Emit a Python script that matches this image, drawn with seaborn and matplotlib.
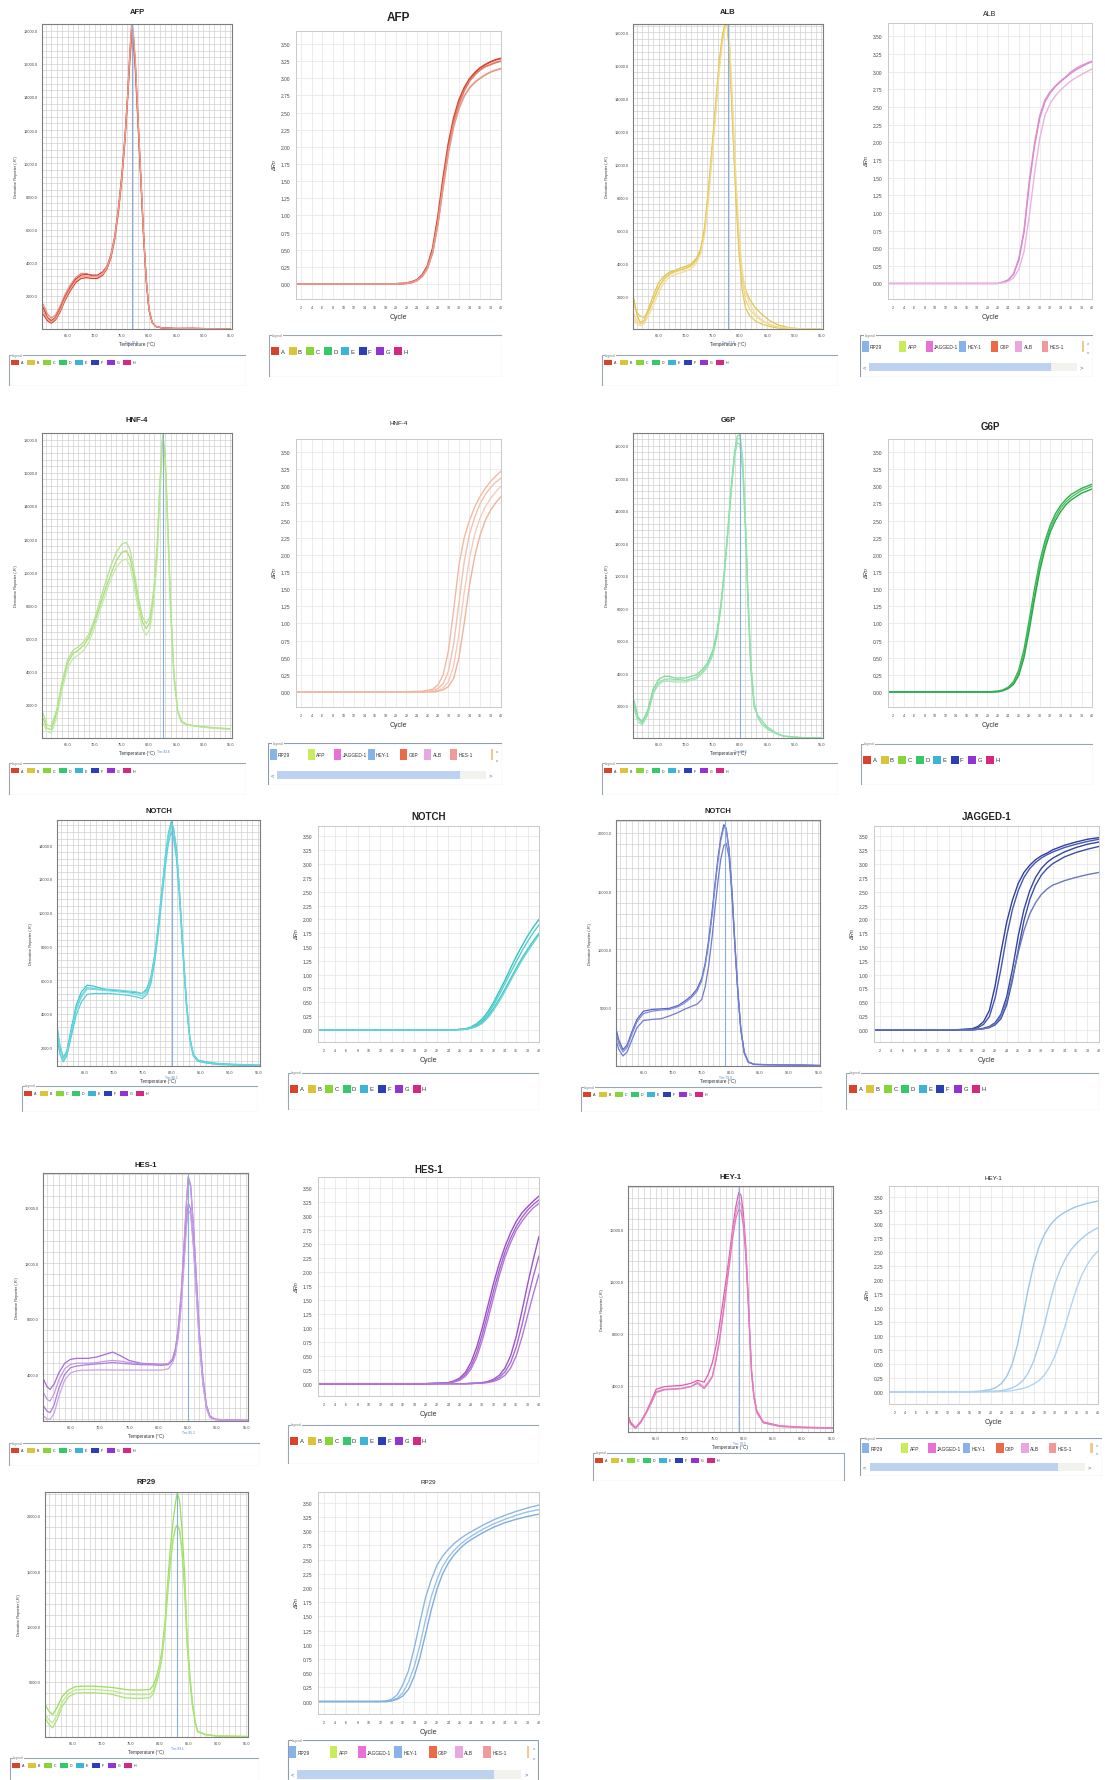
import numpy as np
import pandas as pd
import matplotlib
matplotlib.use("Agg")
import matplotlib.pyplot as plt
import matplotlib.patches as mpatches
import seaborn as sns

# ---------------- melt-curve data (temperature, derivative reporter) ----------------
afp_melt_T = [60.5, 61.3, 62.0, 62.8, 63.6, 64.5, 65.5, 66.5, 67.5, 68.5, 69.5, 70.5, 71.5, 72.3, 73.0, 73.7, 74.4, 75.0, 75.6, 76.1,
              76.5, 76.8, 77.1, 77.5, 78.0, 78.5, 79.0, 79.5, 80.0, 80.6, 81.3, 82.5, 85.0, 88.0, 91.0, 95.0]
afp_melt_A = [1300, 700, 500, 700, 1200, 1900, 2500, 3000, 3250, 3300, 3250, 3250, 3450, 3800, 4500, 5600, 7400, 9300, 11700, 14300,
              16800, 18200, 17900, 16000, 12600, 9200, 5800, 3000, 1200, 400, 150, 60, 30, 40, 20, 10]
afp_melt_B = [900, 500, 350, 550, 1000, 1700, 2300, 2800, 3050, 3100, 3050, 3050, 3250, 3650, 4300, 5400, 7100, 9000, 11400, 14000,
              16300, 17600, 17400, 15600, 12300, 9000, 5600, 2900, 1150, 380, 140, 60, 30, 30, 20, 10]
afp_melt_C = [1500, 900, 650, 850, 1350, 2050, 2650, 3100, 3350, 3350, 3200, 3150, 3300, 3700, 4400, 5500, 7200, 9100, 11500, 14100,
              16500, 17900, 17700, 15900, 12500, 9100, 5700, 2950, 1180, 390, 150, 60, 30, 40, 20, 10]
afp_melt_D = [1100, 600, 420, 620, 1100, 1800, 2400, 2900, 3150, 3200, 3150, 3150, 3350, 3750, 4450, 5550, 7300, 9200, 11600, 14200,
              16700, 18400, 18000, 16100, 12700, 9300, 5800, 3000, 1200, 400, 150, 60, 30, 30, 20, 10]

alb_melt_T = [60.5, 61.0, 61.6, 62.3, 63.0, 64.0, 65.0, 66.0, 67.0, 68.0, 69.0, 70.0, 71.0, 72.0, 72.8, 73.5, 74.2, 74.9, 75.6, 76.2,
              76.8, 77.3, 77.7, 78.1, 78.6, 79.2, 79.8, 80.4, 81.0, 81.8, 82.8, 84.0, 85.5, 87.0, 89.0, 91.0, 95.0]
alb_melt_A = [1800, 900, 400, 500, 1100, 2000, 2800, 3200, 3450, 3550, 3700, 3800, 3950, 4300, 4900, 6200, 8500, 11200, 14000, 16300,
              17900, 18600, 18400, 16800, 13000, 8600, 5200, 3300, 2400, 1800, 1300, 900, 500, 250, 80, 20, 0]
alb_melt_B = [900, 500, 300, 400, 900, 1700, 2500, 3000, 3300, 3450, 3550, 3650, 3800, 4150, 4700, 5900, 8100, 10800, 13500, 15900,
              17600, 18500, 18600, 17200, 13600, 9000, 5400, 3000, 1800, 1200, 800, 500, 250, 120, 40, 10, 0]
alb_melt_C = [1500, 1000, 800, 700, 1000, 1700, 2500, 3050, 3350, 3500, 3600, 3700, 3850, 4200, 4800, 6000, 8200, 10900, 13600, 16000,
              17700, 18500, 18300, 16600, 12800, 8300, 4700, 2400, 1300, 800, 500, 300, 150, 60, 20, 0, 0]
alb_melt_D = [600, 300, 200, 300, 700, 1400, 2200, 2800, 3150, 3300, 3400, 3500, 3650, 4000, 4600, 5700, 7800, 10500, 13300, 15700,
              17400, 18300, 18500, 17400, 14000, 9600, 6000, 3600, 2300, 1500, 950, 550, 280, 120, 40, 10, 0]

hnf4_melt_T = [60.5, 61.2, 62.0, 63.0, 64.0, 65.0, 66.0, 67.0, 68.0, 69.0, 70.0, 71.0, 72.0, 73.0, 74.0, 75.0, 75.8, 76.5, 77.2, 78.0,
               78.8, 79.5, 80.2, 80.9, 81.5, 82.0, 82.5, 83.0, 83.5, 84.0, 84.6, 85.3, 86.0, 87.0, 89.0, 92.0, 95.0]
hnf4_melt_A = [1200, 600, 500, 1500, 3200, 4500, 5100, 5300, 5600, 6100, 7000, 8000, 9000, 9900, 10700, 11200, 11300, 10900, 9800, 8200,
               7000, 6600, 7000, 8600, 11200, 15000, 18000, 16800, 12500, 7800, 3800, 1600, 1000, 800, 700, 600, 550]
hnf4_melt_B = [900, 400, 300, 1200, 2900, 4200, 4800, 5000, 5300, 5800, 6700, 7700, 8700, 9600, 10300, 10700, 10800, 10400, 9300, 7800,
               6600, 6200, 6600, 8200, 10800, 14500, 17400, 16300, 12100, 7500, 3600, 1500, 950, 780, 680, 580, 520]
hnf4_melt_C = [1500, 800, 700, 1700, 3400, 4700, 5300, 5500, 5800, 6300, 7200, 8300, 9400, 10400, 11200, 11700, 11800, 11400, 10200, 8600,
               7300, 6900, 7300, 9000, 11600, 15300, 18300, 17200, 12800, 8000, 3900, 1650, 1020, 820, 720, 620, 560]

g6p_melt_T = [60.5, 61.2, 62.0, 63.0, 64.0, 65.0, 66.0, 67.0, 68.0, 69.0, 70.0, 71.0, 72.0, 73.0, 74.0, 75.0, 75.8, 76.5, 77.2, 77.8,
              78.4, 79.0, 79.5, 80.0, 80.5, 81.0, 81.5, 82.0, 82.6, 83.3, 84.0, 85.0, 86.5, 88.0, 91.0, 95.0]
g6p_melt_A = [2300, 1300, 1000, 1700, 3000, 3600, 3800, 3800, 3700, 3700, 3700, 3800, 3900, 4200, 4600, 5400, 6600, 8300, 10600, 13000,
              15500, 17600, 18600, 18700, 17200, 13500, 8700, 4700, 2200, 1300, 900, 600, 300, 120, 30, 0]
g6p_melt_B = [1800, 1000, 800, 1400, 2700, 3300, 3500, 3500, 3450, 3450, 3450, 3550, 3650, 3950, 4350, 5100, 6300, 8000, 10300, 12700,
              15200, 17300, 18400, 18500, 17000, 13300, 8500, 4500, 2100, 1250, 850, 550, 280, 100, 30, 0]
g6p_melt_C = [2000, 1200, 900, 1500, 2800, 3400, 3600, 3650, 3600, 3600, 3550, 3650, 3750, 4050, 4450, 5200, 6400, 8100, 10400, 12800,
              15300, 17400, 18200, 18100, 16500, 12800, 8000, 4200, 1900, 1400, 1100, 700, 350, 120, 30, 0]

notch_melt_T = [60.3, 60.8, 61.4, 62.0, 62.8, 63.6, 64.5, 65.5, 66.5, 68.0, 69.5, 71.0, 72.5, 74.0, 75.0, 75.8, 76.5, 77.2, 77.8, 78.4,
                79.0, 79.5, 80.0, 80.4, 80.9, 81.4, 82.0, 82.6, 83.2, 83.8, 84.6, 86.0, 88.0, 91.0, 95.3]
notch_melt_A = [3300, 2100, 1400, 1800, 3200, 4500, 5300, 5700, 5650, 5500, 5400, 5350, 5300, 5250, 5200, 5500, 6200, 7600, 9400, 11400,
                13400, 14700, 15400, 15000, 13800, 11400, 8000, 4800, 2600, 1600, 1250, 1150, 1050, 1000, 950]
notch_melt_B = [3000, 1900, 1300, 1600, 2900, 4200, 5000, 5450, 5450, 5400, 5350, 5300, 5250, 5150, 5050, 5300, 6000, 7400, 9200, 11200,
                13100, 14400, 15100, 14700, 13500, 11200, 7800, 4700, 2550, 1550, 1200, 1100, 1000, 970, 930]
notch_melt_C = [2600, 1600, 1150, 1500, 2700, 3900, 4700, 5150, 5200, 5200, 5200, 5150, 5100, 5000, 4900, 5150, 5800, 7200, 8900, 10900,
                12800, 14100, 14800, 14400, 13200, 10900, 7600, 4500, 2450, 1500, 1180, 1080, 990, 960, 920]
notch_melt_D = [3100, 2000, 1350, 1700, 3000, 4300, 5100, 5550, 5500, 5450, 5450, 5400, 5350, 5300, 5200, 5400, 6100, 7500, 9300, 11300,
                13300, 14600, 15300, 14900, 13700, 11300, 7900, 4750, 2580, 1570, 1220, 1120, 1020, 980, 940]

notchb_melt_T = [60.2, 60.8, 61.5, 62.2, 63.0, 63.9, 65.0, 66.5, 68.0, 69.5, 71.0, 72.2, 73.2, 74.2, 75.0, 75.6, 76.2, 76.8, 77.3, 77.8,
                 78.3, 78.8, 79.2, 79.7, 80.2, 80.7, 81.2, 81.7, 82.3, 83.0, 84.0, 86.0, 89.0, 92.0, 95.3]
notchb_melt_A = [3400, 2200, 1400, 1800, 2900, 4000, 4700, 4850, 4900, 4950, 5200, 5600, 6000, 6600, 7500, 8800, 10800, 13300, 15700, 17900,
                 19600, 20700, 20400, 18600, 15000, 10500, 6500, 3300, 1200, 350, 150, 120, 100, 90, 50]
notchb_melt_B = [3000, 1900, 1200, 1600, 2700, 3800, 4500, 4700, 4800, 4850, 5100, 5450, 5850, 6400, 7300, 8600, 10500, 13000, 15400, 17600,
                 19400, 20500, 20300, 18500, 14900, 10400, 6400, 3200, 1150, 330, 140, 110, 90, 80, 40]
notchb_melt_C = [2400, 1400, 860, 1200, 2200, 3300, 3900, 4000, 4050, 4300, 4600, 4900, 5100, 5300, 5700, 6800, 8600, 11100, 13600, 15900,
                 17800, 18900, 19100, 17900, 14600, 10300, 6300, 3150, 1100, 320, 130, 100, 80, 70, 30]

hes1_melt_T = [60.4, 61.0, 61.5, 62.2, 63.0, 64.0, 65.0, 66.0, 67.0, 68.0, 69.5, 71.0, 72.2, 73.5, 75.0, 77.0, 79.0, 80.5, 81.7, 82.4,
               82.9, 83.4, 83.9, 84.4, 84.8, 85.1, 85.5, 86.0, 86.5, 87.0, 87.6, 88.2, 88.8, 89.7, 92.0, 95.5]
hes1_melt_A = [3640, 3100, 2920, 3300, 4100, 4800, 5080, 5150, 5150, 5150, 5250, 5450, 5600, 5350, 5000, 4800, 4750, 4720, 4750, 5100,
               5800, 7300, 9800, 13400, 16400, 18200, 17600, 14600, 10800, 7000, 3800, 1800, 1000, 780, 720, 700]
hes1_melt_B = [2680, 2200, 2080, 2600, 3600, 4400, 4720, 4800, 4800, 4800, 4850, 4950, 5000, 4950, 4850, 4750, 4720, 4700, 4750, 5100,
               5800, 7300, 9800, 13400, 16400, 18100, 17500, 14500, 10700, 6900, 3700, 1750, 980, 770, 710, 690]
hes1_melt_C = [1725, 1350, 1245, 1800, 3000, 4000, 4480, 4600, 4650, 4700, 4750, 4800, 4850, 4800, 4750, 4700, 4680, 4650, 4700, 5000,
               5600, 6900, 9200, 12400, 15000, 16300, 15900, 13300, 9800, 6300, 3400, 1600, 920, 750, 700, 680]
hes1_melt_D = [1000, 800, 770, 1200, 2400, 3600, 4100, 4250, 4300, 4300, 4320, 4320, 4310, 4310, 4310, 4310, 4310, 4310, 4400, 4800,
               5400, 6700, 8900, 12000, 14600, 15800, 15500, 13000, 9600, 6200, 3300, 1550, 900, 740, 700, 680]

hey1_melt_T = [60.2, 60.8, 61.6, 62.5, 63.4, 64.3, 65.1, 66.5, 68.0, 69.5, 71.0, 72.2, 73.3, 74.0, 74.7, 75.3, 75.9, 76.5, 77.0, 77.6,
               78.2, 78.7, 79.2, 79.6, 80.0, 80.4, 80.8, 81.1, 81.4, 81.8, 82.3, 83.4, 86.3, 90.0, 95.3]
hey1_melt_A = [1830, 1200, 815, 1300, 2000, 2900, 3745, 3950, 4000, 4050, 4200, 4430, 4300, 4900, 5780, 7000, 8590, 10400, 12000, 14000,
               16200, 17700, 18800, 18600, 17200, 14800, 11100, 8000, 5200, 3300, 2100, 1250, 950, 850, 800]
hey1_melt_B = [1600, 1050, 750, 1200, 1900, 2700, 3490, 3700, 3745, 3800, 3950, 4300, 3900, 4300, 4760, 6000, 7570, 9500, 11300, 13500,
               15800, 17200, 18100, 17900, 16600, 14300, 10800, 7800, 5000, 3200, 2000, 1200, 920, 830, 780]
hey1_melt_C = [1700, 1100, 780, 1250, 1950, 2800, 3550, 3750, 3780, 3820, 3950, 4200, 3800, 4200, 4700, 5900, 7400, 9300, 11100, 13200,
               15400, 16800, 17500, 17400, 16200, 14000, 10600, 7600, 4900, 3100, 1950, 1180, 900, 820, 770]

rp29_melt_T = [60.2, 60.9, 61.6, 62.4, 63.3, 64.4, 65.5, 67.0, 68.5, 70.0, 71.5, 73.0, 74.1, 75.5, 77.0, 78.4, 79.0, 79.6, 80.1, 80.5,
               81.0, 81.4, 81.9, 82.4, 82.8, 83.1, 83.5, 83.9, 84.4, 84.8, 85.3, 85.7, 86.2, 86.6, 87.9, 90.0, 95.2]
rp29_melt_A = [3070, 2400, 2020, 2700, 3700, 4260, 4550, 4600, 4600, 4550, 4500, 4400, 4300, 4250, 4250, 4300, 4700, 5600, 6700, 7980,
               10500, 13630, 17000, 19580, 21200, 22100, 21400, 19000, 14500, 9170, 5500, 3200, 1400, 540, 240, 100, 50]
rp29_melt_B = [2170, 1600, 1280, 2000, 3200, 3960, 4260, 4300, 4300, 4260, 4200, 4050, 3900, 3850, 3820, 3850, 4250, 5300, 6400, 7600,
               10000, 12900, 15800, 18000, 19000, 19200, 18800, 17000, 13200, 8500, 5100, 3000, 1300, 500, 220, 90, 40]
rp29_melt_C = [1875, 1200, 830, 1600, 2800, 3650, 3960, 4000, 4000, 3960, 3900, 3700, 3550, 3500, 3500, 3550, 3950, 5000, 6100, 7300,
               9700, 12600, 15600, 17900, 18900, 19100, 18700, 16900, 13100, 8400, 5000, 2900, 1250, 480, 210, 80, 30]

# melting temperatures (Tm markers)
tm_afp, tm_alb, tm_hnf4, tm_g6p = 76.8, 77.8, 82.6, 80.0
tm_notch, tm_notchb, tm_hes1, tm_hey1, tm_rp29 = 80.1, 79.0, 85.1, 79.3, 83.1

# ---------------- amplification data (cycle, delta Rn) ----------------
afp_amp_cycle = [1, 5, 10, 15, 20, 22, 23, 24, 25, 26, 27, 28, 29, 30, 31, 32, 33, 34, 35, 36, 37, 38, 39, 40]
afp_amp_A = [0, 0, 0, 0, 0, 0.01, 0.03, 0.06, 0.13, 0.26, 0.52, 0.98, 1.55, 2.05, 2.42, 2.68, 2.86, 2.99, 3.08, 3.15, 3.2, 3.24, 3.27, 3.29]
afp_amp_B = [0, 0, 0, 0, 0, 0.01, 0.02, 0.05, 0.11, 0.23, 0.47, 0.9, 1.45, 1.97, 2.36, 2.63, 2.82, 2.96, 3.05, 3.12, 3.17, 3.2, 3.23, 3.25]
afp_amp_C = [0, 0, 0, 0, 0, 0.01, 0.02, 0.05, 0.11, 0.23, 0.46, 0.88, 1.42, 1.92, 2.3, 2.56, 2.74, 2.86, 2.94, 3.0, 3.05, 3.09, 3.12, 3.14]

alb_amp_cycle = [1, 5, 10, 15, 20, 22, 23, 24, 25, 26, 27, 28, 29, 30, 31, 32, 33, 34, 35, 36, 37, 38, 39, 40]
alb_amp_A = [0, 0, 0, 0, 0, 0, 0.02, 0.05, 0.14, 0.35, 0.75, 1.45, 1.98, 2.38, 2.6, 2.72, 2.8, 2.87, 2.93, 3.0, 3.05, 3.09, 3.12, 3.15]
alb_amp_B = [0, 0, 0, 0, 0, 0, 0.02, 0.05, 0.13, 0.33, 0.72, 1.4, 1.94, 2.34, 2.57, 2.7, 2.79, 2.86, 2.92, 2.98, 3.03, 3.07, 3.11, 3.14]
alb_amp_C = [0, 0, 0, 0, 0, 0, 0.01, 0.03, 0.08, 0.2, 0.45, 0.95, 1.55, 2.05, 2.38, 2.55, 2.66, 2.74, 2.81, 2.87, 2.92, 2.96, 3.0, 3.04]

hnf4_amp_cycle = [1, 10, 20, 25, 27, 28, 29, 30, 31, 32, 33, 34, 35, 36, 37, 38, 39, 40]
hnf4_amp_A = [0, 0, 0, 0.01, 0.04, 0.1, 0.25, 0.6, 1.2, 1.85, 2.25, 2.5, 2.7, 2.85, 2.97, 3.07, 3.15, 3.22]
hnf4_amp_B = [0, 0, 0, 0, 0.02, 0.05, 0.12, 0.3, 0.7, 1.3, 1.9, 2.3, 2.55, 2.74, 2.88, 2.98, 3.06, 3.12]
hnf4_amp_C = [0, 0, 0, 0, 0.01, 0.02, 0.06, 0.15, 0.38, 0.85, 1.45, 1.95, 2.3, 2.53, 2.7, 2.82, 2.92, 3.0]
hnf4_amp_D = [0, 0, 0, 0, 0, 0.01, 0.03, 0.08, 0.2, 0.5, 1.0, 1.55, 1.98, 2.28, 2.5, 2.65, 2.76, 2.85]

g6p_amp_cycle = [1, 10, 20, 22, 23, 24, 25, 26, 27, 28, 29, 30, 31, 32, 33, 34, 35, 36, 38, 40]
g6p_amp_A = [0, 0, 0, 0.01, 0.03, 0.07, 0.15, 0.32, 0.62, 1.05, 1.5, 1.9, 2.2, 2.43, 2.6, 2.72, 2.81, 2.88, 2.97, 3.03]
g6p_amp_B = [0, 0, 0, 0.01, 0.02, 0.06, 0.13, 0.28, 0.56, 0.97, 1.42, 1.83, 2.14, 2.38, 2.55, 2.68, 2.77, 2.84, 2.94, 3.0]
g6p_amp_C = [0, 0, 0, 0, 0.02, 0.05, 0.11, 0.24, 0.5, 0.9, 1.35, 1.76, 2.08, 2.33, 2.5, 2.63, 2.73, 2.8, 2.9, 2.96]

notch_amp_cycle = [1, 10, 20, 25, 27, 28, 29, 30, 31, 32, 33, 34, 35, 36, 37, 38, 39, 40]
notch_amp_A = [0, 0, 0, 0, 0.02, 0.05, 0.11, 0.2, 0.33, 0.5, 0.7, 0.9, 1.12, 1.33, 1.52, 1.7, 1.86, 2.0]
notch_amp_B = [0, 0, 0, 0, 0.01, 0.04, 0.09, 0.17, 0.29, 0.45, 0.64, 0.84, 1.04, 1.24, 1.43, 1.6, 1.76, 1.9]
notch_amp_C = [0, 0, 0, 0, 0.01, 0.03, 0.07, 0.14, 0.25, 0.39, 0.56, 0.74, 0.93, 1.12, 1.3, 1.46, 1.61, 1.75]
notch_amp_D = [0, 0, 0, 0, 0.01, 0.03, 0.06, 0.12, 0.22, 0.36, 0.52, 0.7, 0.89, 1.08, 1.26, 1.42, 1.57, 1.72]

jag_amp_cycle = [1, 10, 15, 18, 19, 20, 21, 22, 23, 24, 25, 26, 27, 28, 29, 30, 31, 32, 34, 36, 38, 40]
jag_amp_A = [0, 0, 0, 0.02, 0.06, 0.15, 0.35, 0.8, 1.4, 1.95, 2.35, 2.65, 2.85, 2.98, 3.08, 3.15, 3.2, 3.26, 3.34, 3.4, 3.45, 3.48]
jag_amp_B = [0, 0, 0, 0.01, 0.04, 0.1, 0.24, 0.58, 1.1, 1.7, 2.18, 2.52, 2.76, 2.92, 3.03, 3.11, 3.17, 3.22, 3.3, 3.36, 3.41, 3.45]
jag_amp_C = [0, 0, 0, 0, 0.01, 0.03, 0.06, 0.13, 0.28, 0.6, 1.1, 1.7, 2.18, 2.52, 2.76, 2.92, 3.03, 3.11, 3.22, 3.3, 3.36, 3.4]
jag_amp_D = [0, 0, 0, 0, 0.01, 0.02, 0.04, 0.09, 0.2, 0.45, 0.9, 1.45, 1.98, 2.36, 2.62, 2.8, 2.92, 3.01, 3.13, 3.21, 3.27, 3.32]
jag_amp_E = [0, 0, 0, 0, 0.01, 0.02, 0.05, 0.11, 0.25, 0.52, 0.95, 1.4, 1.8, 2.1, 2.3, 2.45, 2.55, 2.62, 2.7, 2.76, 2.81, 2.85]

hes1_amp_cycle = [1, 10, 20, 24, 25, 26, 27, 28, 29, 30, 31, 32, 33, 34, 35, 36, 37, 38, 39, 40]
hes1_amp_A = [0, 0, 0, 0.02, 0.05, 0.1, 0.2, 0.38, 0.65, 1.0, 1.4, 1.8, 2.15, 2.45, 2.7, 2.9, 3.05, 3.16, 3.26, 3.35]
hes1_amp_B = [0, 0, 0, 0.01, 0.04, 0.08, 0.16, 0.31, 0.55, 0.88, 1.27, 1.67, 2.03, 2.35, 2.6, 2.81, 2.97, 3.1, 3.2, 3.28]
hes1_amp_C = [0, 0, 0, 0.01, 0.03, 0.06, 0.13, 0.26, 0.47, 0.78, 1.15, 1.55, 1.93, 2.26, 2.52, 2.74, 2.9, 3.03, 3.14, 3.22]
hes1_amp_D = [0, 0, 0, 0, 0, 0, 0, 0.01, 0.01, 0.02, 0.04, 0.08, 0.15, 0.28, 0.5, 0.85, 1.3, 1.78, 2.22, 2.63]
hes1_amp_E = [0, 0, 0, 0, 0, 0, 0, 0, 0.01, 0.01, 0.03, 0.06, 0.11, 0.21, 0.38, 0.66, 1.05, 1.5, 1.92, 2.28]
hes1_amp_F = [0, 0, 0, 0, 0, 0, 0, 0, 0.01, 0.01, 0.02, 0.04, 0.08, 0.15, 0.28, 0.5, 0.83, 1.22, 1.6, 1.96]

hey1_amp_cycle = [1, 10, 16, 18, 20, 21, 22, 23, 24, 25, 26, 27, 28, 29, 30, 31, 32, 33, 34, 35, 36, 37, 38, 39, 40]
hey1_amp_A = [0, 0, 0, 0.01, 0.04, 0.08, 0.15, 0.28, 0.5, 0.85, 1.35, 1.85, 2.28, 2.6, 2.82, 2.98, 3.09, 3.17, 3.23, 3.28, 3.32, 3.35, 3.38, 3.4, 3.42]
hey1_amp_B = [0, 0, 0, 0, 0.01, 0.01, 0.02, 0.04, 0.07, 0.12, 0.2, 0.34, 0.55, 0.85, 1.2, 1.6, 1.95, 2.2, 2.4, 2.55, 2.66, 2.75, 2.83, 2.89, 2.94]
hey1_amp_C = [0, 0, 0, 0, 0, 0, 0.01, 0.01, 0.02, 0.04, 0.06, 0.09, 0.14, 0.2, 0.3, 0.45, 0.65, 0.92, 1.22, 1.55, 1.85, 2.1, 2.28, 2.42, 2.52]

rp29_amp_cycle = [1, 5, 10, 12, 13, 14, 15, 16, 17, 18, 19, 20, 21, 22, 23, 24, 25, 26, 27, 28, 30, 32, 34, 36, 38, 40]
rp29_amp_A = [0, 0, 0, 0, 0.01, 0.04, 0.12, 0.3, 0.55, 0.95, 1.4, 1.84, 2.15, 2.4, 2.56, 2.68, 2.78, 2.86, 2.93, 2.99, 3.1, 3.2, 3.28, 3.35, 3.41, 3.46]
rp29_amp_B = [0, 0, 0, 0, 0, 0.02, 0.06, 0.16, 0.35, 0.62, 1.0, 1.45, 1.85, 2.15, 2.38, 2.54, 2.66, 2.76, 2.84, 2.91, 3.03, 3.13, 3.21, 3.28, 3.34, 3.38]
rp29_amp_C = [0, 0, 0, 0, 0, 0.01, 0.04, 0.1, 0.22, 0.45, 0.78, 1.2, 1.62, 1.98, 2.25, 2.44, 2.58, 2.69, 2.78, 2.85, 2.97, 3.07, 3.15, 3.21, 3.26, 3.3]

# legend entries
sample_labels = ['A', 'B', 'C', 'D', 'E', 'F', 'G', 'H']
target_labels = ['RP29', 'AFP', 'JAGGED-1', 'HEY-1', 'G6P', 'ALB', 'HES-1']

# ---------------- styling ----------------
sns.set_theme(style="white")
plt.rcParams['font.family'] = ['Liberation Sans', 'DejaVu Sans']

SAMPLE_COLORS = ['#d8432c', '#d9c43a', '#86d63a', '#34c96a', '#3cb4d8', '#2a3eb8', '#9333d6', '#d6287e']
TARGET_COLORS = ['#86b4e8', '#c9ec5a', '#ea70d8', '#86b4e8', '#ec6a45', '#eaa6e0', '#f29a9a']
TARGET_POS = [0.007, 0.169, 0.283, 0.426, 0.564, 0.667, 0.779]

W, H = 1105, 1781
fig = plt.figure(figsize=(W / 100, H / 100), dpi=100)
fig.patch.set_facecolor('white')


def frac(rect):
    l, t, r, b = rect
    return [l / W, 1 - b / H, (r - l) / W, (b - t) / H]


def long_df(x, reps):
    return pd.concat([pd.DataFrame({'x': x, 'y': r, 'rep': i}) for i, r in enumerate(reps)],
                     ignore_index=True)


def sample_legend(rect, big=False):
    ax = fig.add_axes(frac(rect))
    ax.set_xlim(0, rect[2] - rect[0])
    ax.set_ylim(rect[3] - rect[1], 0)
    ax.axis('off')
    w, h = rect[2] - rect[0], rect[3] - rect[1]
    ax.add_patch(mpatches.Rectangle((0.5, 0.5), w - 1, h - 1, fill=False, ec='#9aa6b2', lw=0.8))
    ax.text(4, 0.5, 'Legend', fontsize=2.3, color='#777', va='center', ha='left',
            bbox=dict(fc='white', ec='none', pad=0.2))
    if big:
        sw, sh, step, yc, fs = 8, 8, 17.5, 17, 4.2
    else:
        sw, sh, step, yc, fs = 8, 5, 16, 8, 2.6
    for i, (c, lab) in enumerate(zip(SAMPLE_COLORS, sample_labels)):
        x0 = 3 + i * step
        ax.add_patch(mpatches.Rectangle((x0, yc - sh / 2), sw, sh, fc=c, ec='none'))
        ax.text(x0 + sw + 1.5, yc, lab, fontsize=fs, va='center', ha='left', color='#333')


def target_legend(rect):
    ax = fig.add_axes(frac(rect))
    ax.set_xlim(0, 1)
    ax.set_ylim(0, 1)
    ax.axis('off')
    ax.add_patch(mpatches.Rectangle((0.002, 0.01), 0.996, 0.98, fill=False, ec='#8f9caa', lw=0.8))
    ax.text(0.02, 0.99, 'Legend', fontsize=2.3, color='#777', va='center', ha='left',
            bbox=dict(fc='white', ec='none', pad=0.2))
    for p, c, lab in zip(TARGET_POS, TARGET_COLORS, target_labels):
        ax.add_patch(mpatches.Rectangle((p, 0.6), 0.03, 0.26, fc=c, ec='none'))
        ax.text(p + 0.036, 0.73, lab, fontsize=3.5, va='center', ha='left', color='#333')
    ax.add_patch(mpatches.Rectangle((0.952, 0.6), 0.01, 0.26, fc='#f0c890', ec='none'))
    ax.text(0.98, 0.78, '^', fontsize=3.5, ha='center', va='center', color='#5577aa')
    ax.text(0.98, 0.6, 'v', fontsize=3.2, ha='center', va='center', color='#5577aa')
    ax.add_patch(mpatches.Rectangle((0.04, 0.14), 0.78, 0.2, fc='#bcd2f0', ec='none'))
    ax.add_patch(mpatches.Rectangle((0.82, 0.14), 0.11, 0.2, fc='#f2f2ee', ec='none'))
    ax.text(0.02, 0.24, '<', fontsize=4.2, ha='center', va='center', color='#44689a')
    ax.text(0.95, 0.24, '>', fontsize=4.2, ha='center', va='center', color='#44689a')


def melt_panel(rect, title, title_y, T, reps, colors, ylim, yticks, ystep, tm, leg_rect):
    ax = fig.add_axes(frac(rect))
    df = long_df(T, reps)
    sns.lineplot(data=df, x='x', y='y', hue='rep', palette=colors, legend=False, ax=ax,
                 estimator=None, sort=False, lw=0.9)
    ax.set_xlim(60.3, 95.3)
    ax.set_ylim(*ylim)
    ax.set_xticks([65, 70, 75, 80, 85, 90, 95])
    ax.set_xticklabels([f'{v:.1f}' for v in [65, 70, 75, 80, 85, 90, 95]])
    ax.set_xticks(np.arange(61, 96, 1), minor=True)
    ax.set_yticks(yticks)
    ax.set_yticklabels([f'{v:.1f}' for v in yticks])
    ax.set_yticks(np.arange(ylim[0] - ylim[0] % ystep, ylim[1], ystep), minor=True)
    ax.set_ylim(*ylim)
    ax.grid(True, which='both', color='#cdcdcd', lw=0.45)
    ax.set_axisbelow(True)
    ax.tick_params(which='both', length=0, labelsize=2.8, colors='#444', pad=3)
    ax.axvline(tm, color='#86aee0', lw=0.8)
    ax.text(tm, -0.035, f'Tm: {tm}', transform=ax.get_xaxis_transform(), fontsize=2.3,
            color='#4a7fd0', ha='center', va='top')
    for s in ax.spines.values():
        s.set_color('#7d7d7d')
        s.set_linewidth(0.8)
    ax.set_xlabel('Temperature (°C)', fontsize=3.3, labelpad=3, color='#333')
    ax.set_ylabel("Derivative Reporter (-R')", fontsize=2.8, labelpad=4, color='#333')
    fig.text((rect[0] + rect[2]) / 2 / W, 1 - title_y / H, title, ha='center', va='center',
             fontsize=5.5, weight='bold', color='#222')
    sample_legend(leg_rect, big=False)


def amp_panel(rect, title, title_y, bold, tsize, cycles, reps, colors, leg_rect, leg_type, lw=1.0):
    ax = fig.add_axes(frac(rect))
    df = long_df(cycles, reps)
    sns.lineplot(data=df, x='x', y='y', hue='rep', palette=colors, legend=False, ax=ax,
                 estimator=None, sort=False, lw=lw)
    ax.set_xlim(1, 40)
    ax.set_ylim(-0.22, 3.69)
    ax.set_xticks(range(2, 41, 2))
    yt = np.arange(0, 3.51, 0.25)
    ax.set_yticks(yt)
    ax.set_yticklabels([f'{v:.2f}' for v in yt])
    ax.grid(True, color='#e4e4e4', lw=0.5)
    ax.set_axisbelow(True)
    ax.tick_params(axis='x', labelsize=2.6, length=0, pad=4, colors='#444')
    ax.tick_params(axis='y', labelsize=3.5, length=0, pad=4, colors='#444')
    for s in ax.spines.values():
        s.set_color('#c9c9c9')
        s.set_linewidth(0.7)
    ax.set_xlabel('Cycle', fontsize=5, labelpad=3, color='#333')
    ax.set_ylabel('ΔRn', fontsize=4, labelpad=3, color='#333', style='italic')
    fig.text((rect[0] + min(rect[2], W)) / 2 / W, 1 - title_y / H, title, ha='center', va='center',
             fontsize=tsize, weight='bold' if bold else 'normal', color='#222')
    if leg_type == 'sample':
        sample_legend(leg_rect, big=True)
    else:
        target_legend(leg_rect)


red = ['#d6402b', '#e88a78', '#d6402b', '#eba093']
yel = ['#e3c54c', '#efd88a', '#e6c95a', '#f2dd98']
lgr = ['#a6df7a', '#c4eba4', '#b3e48c']
mgr = ['#78da96', '#a6e8ba', '#8fe0a8']
cya = ['#3ac8d0', '#7edde2', '#55d0d8', '#6ad6dc']
blu = ['#5464c8', '#7d8ad8', '#6f7cd2']
pur = ['#a86ad8', '#c39ae6', '#b07ddc', '#c8a4ea']
pnk = ['#de5eb0', '#e98fca', '#e27abd']
rgr = ['#98df58', '#bde98d', '#aae474']

# ---------------- Row 1 ----------------
melt_panel([42, 25, 232, 330], 'AFP', 12, afp_melt_T, [afp_melt_B, afp_melt_C, afp_melt_A, afp_melt_D], red,
           (0, 18400), list(range(2000, 18001, 2000)), 400, tm_afp, [8, 355, 246, 387])
amp_panel([296, 32, 501, 300], 'AFP', 18, True, 8.5, afp_amp_cycle, [afp_amp_A, afp_amp_B, afp_amp_C],
          ['#d8432e', '#e07a66', '#e6998a'], [268, 335, 502, 378], 'sample', lw=1.3)
melt_panel([633, 25, 823, 330], 'ALB', 12, alb_melt_T, [alb_melt_A, alb_melt_B, alb_melt_C, alb_melt_D], yel,
           (0, 18500), list(range(2000, 18001, 2000)), 400, tm_alb, [601, 355, 838, 387])
amp_panel([888, 24, 1092, 300], 'ALB', 15, False, 5, alb_amp_cycle, [alb_amp_A, alb_amp_B, alb_amp_C],
          ['#e29ad6', '#d98acb', '#eab3e2'], [860, 336, 1093, 378], 'target')

# ---------------- Row 2 ----------------
melt_panel([42, 434, 232, 739], 'HNF-4', 421, hnf4_melt_T, [hnf4_melt_A, hnf4_melt_B, hnf4_melt_C], lgr,
           (0, 18400), list(range(2000, 18001, 2000)), 400, tm_hnf4, [8, 764, 246, 796])
amp_panel([296, 440, 501, 708], 'HNF-4', 424, False, 4.5, hnf4_amp_cycle,
          [hnf4_amp_A, hnf4_amp_B, hnf4_amp_C, hnf4_amp_D],
          ['#f2b9a2', '#efc3b0', '#f4ccbc', '#eeb49c'], [268, 744, 502, 786], 'target')
melt_panel([633, 434, 823, 739], 'G6P', 421, g6p_melt_T, [g6p_melt_A, g6p_melt_B, g6p_melt_C], mgr,
           (0, 18800), list(range(2000, 18001, 2000)), 400, tm_g6p, [601, 764, 838, 796])
amp_panel([888, 440, 1092, 708], 'G6P', 427, True, 7, g6p_amp_cycle, [g6p_amp_A, g6p_amp_B, g6p_amp_C],
          ['#2fb34c', '#4cc266', '#28a844'], [860, 744, 1093, 786], 'sample')

# ---------------- Row 3 ----------------
melt_panel([57, 821, 260, 1067], 'NOTCH', 812, notch_melt_T,
           [notch_melt_A, notch_melt_B, notch_melt_C, notch_melt_D], cya,
           (900, 15500), list(range(2000, 14001, 2000)), 400, tm_notch, [21, 1086, 258, 1113])
amp_panel([318, 827, 539, 1043], 'NOTCH', 817, True, 7, notch_amp_cycle,
          [notch_amp_A, notch_amp_B, notch_amp_C, notch_amp_D],
          ['#34c4c4', '#55cece', '#3dc8c8', '#6ad4d4'], [287, 1073, 539, 1111], 'sample')
melt_panel([616, 821, 820, 1067], 'NOTCH', 812, notchb_melt_T, [notchb_melt_A, notchb_melt_B, notchb_melt_C], blu,
           (0, 21100), list(range(5000, 20001, 5000)), 1000, tm_notchb, [580, 1087, 822, 1113])
amp_panel([874, 827, 1099, 1043], 'JAGGED-1', 817, True, 7, jag_amp_cycle,
          [jag_amp_A, jag_amp_B, jag_amp_C, jag_amp_D, jag_amp_E],
          ['#2e3f9e', '#4656b0', '#34469f', '#3c4fa8', '#6a78c0'], [846, 1073, 1099, 1111], 'sample')

# ---------------- Row 4 ----------------
melt_panel([43, 1174, 248, 1422], 'HES-1', 1166, hes1_melt_T,
           [hes1_melt_A, hes1_melt_B, hes1_melt_C, hes1_melt_D], pur,
           (650, 18470), list(range(4000, 16001, 4000)), 800, tm_hes1, [8, 1443, 260, 1467])
amp_panel([318, 1178, 539, 1397], 'HES-1', 1170, True, 7, hes1_amp_cycle,
          [hes1_amp_A, hes1_amp_B, hes1_amp_C, hes1_amp_D, hes1_amp_E, hes1_amp_F],
          ['#9a4fc8', '#a862d0', '#b378d6', '#9c55c8', '#a86ad0', '#b27ad6'], [287, 1425, 539, 1465], 'sample')
melt_panel([628, 1187, 833, 1433], 'HEY-1', 1178, hey1_melt_T, [hey1_melt_A, hey1_melt_B, hey1_melt_C], pnk,
           (480, 19300), list(range(4000, 16001, 4000)), 800, tm_hey1, [592, 1453, 845, 1482])
amp_panel([889, 1187, 1098, 1405], 'HEY-1', 1179, False, 4.5, hey1_amp_cycle, [hey1_amp_A, hey1_amp_B, hey1_amp_C],
          ['#9cc6ea', '#a8cdee', '#b3d3f0'], [860, 1439, 1102, 1477], 'target')

# ---------------- Row 5 ----------------
melt_panel([45, 1493, 248, 1738], 'RP29', 1483, rp29_melt_T, [rp29_melt_A, rp29_melt_B, rp29_melt_C], rgr,
           (0, 22170), list(range(5000, 20001, 5000)), 1000, tm_rp29, [9, 1758, 259, 1790])
amp_panel([318, 1493, 539, 1715], 'RP29', 1483, False, 4.5, rp29_amp_cycle, [rp29_amp_A, rp29_amp_B, rp29_amp_C],
          ['#8ab8e2', '#9cc2e8', '#7eaedc'], [287, 1741, 539, 1786], 'target')

fig.savefig('out.png', dpi=100, facecolor='white')
